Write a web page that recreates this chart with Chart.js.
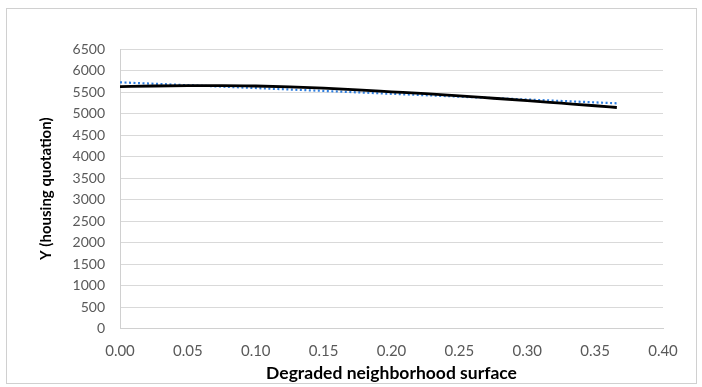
<!DOCTYPE html>
<html>
<head>
<meta charset="utf-8">
<script src="https://cdn.jsdelivr.net/npm/chart.js@4"></script>
<style>
html,body{margin:0;padding:0;background:#fff;}
#wrap{position:relative;width:702px;height:387px;}
</style>
</head>
<body>
<div id="wrap"><canvas id="c" width="702" height="387"></canvas></div>
<script>
// Data
const curveX = [0, 0.025, 0.05, 0.075, 0.1, 0.125, 0.15, 0.175, 0.2, 0.225, 0.25, 0.275, 0.3, 0.325, 0.35, 0.366];
const curveY = [5623, 5640, 5648, 5650, 5640, 5620, 5590, 5550, 5505, 5460, 5410, 5355, 5300, 5240, 5180, 5140];
const trendX = [0, 0.366];
const trendY = [5725, 5237];
const xTicks = [0, 0.05, 0.1, 0.15, 0.2, 0.25, 0.3, 0.35, 0.4];
const yTicks = [0, 500, 1000, 1500, 2000, 2500, 3000, 3500, 4000, 4500, 5000, 5500, 6000, 6500];
const xTitle = 'Degraded neighborhood surface';
const yTitle = 'Y (housing quotation)';

const FONT = 'Lato, "Open Sans", sans-serif';

const borderPlugin = {
  id: 'outerBorder',
  beforeDraw(chart) {
    const ctx = chart.ctx;
    ctx.save();
    ctx.fillStyle = '#fff';
    ctx.fillRect(0, 0, chart.width, chart.height);
    ctx.strokeStyle = '#d0d0d0';
    ctx.lineWidth = 1;
    ctx.strokeRect(6.5, 8.5, 690, 375);
    ctx.restore();
  }
};

new Chart(document.getElementById('c'), {
  type: 'line',
  data: {
    datasets: [
      {
        label: 'Y',
        data: curveX.map((x, i) => ({x: x, y: curveY[i]})),
        borderColor: '#000000',
        borderWidth: 2.8,
        pointRadius: 0,
        cubicInterpolationMode: 'monotone',
        fill: false
      },
      {
        label: 'Trend',
        data: trendX.map((x, i) => ({x: x, y: trendY[i]})),
        borderColor: '#2f7fe0',
        borderWidth: 2.2,
        borderDash: [2, 2.5],
        pointRadius: 0,
        fill: false
      }
    ]
  },
  options: {
    responsive: false,
    animation: false,
    devicePixelRatio: 1,
    layout: { padding: { top: 49, right: 39, left: 0, bottom: 0 } },
    plugins: { legend: { display: false }, tooltip: { enabled: false } },
    scales: {
      x: {
        type: 'linear',
        min: 0, max: 0.4,
        afterBuildTicks(scale) { scale.ticks = xTicks.map(v => ({value: v})); },
        afterFit(scale) { scale.height = 58.5; },
        grid: { display: false, drawTicks: false },
        border: { display: true, color: '#d0d0d0', width: 1 },
        ticks: {
          padding: 14,
          color: '#595959',
          font: { family: FONT, size: 15 },
          maxRotation: 0,
          autoSkip: false,
          callback: v => Number(v).toFixed(2)
        },
        title: {
          display: true,
          text: xTitle,
          color: '#000',
          font: { family: FONT, size: 17.5, weight: 'bold' },
          padding: { top: 0, bottom: 3 }
        }
      },
      y: {
        min: 0, max: 6500,
        afterBuildTicks(scale) { scale.ticks = yTicks.map(v => ({value: v})); },
        afterFit(scale) { scale.width = 120; },
        grid: { color: '#d9d9d9', lineWidth: 1, drawTicks: false },
        border: { display: true, color: '#d0d0d0', width: 1 },
        ticks: {
          padding: 15,
          color: '#595959',
          font: { family: FONT, size: 14 },
          autoSkip: false,
          callback: v => String(v)
        },
        title: {
          display: true,
          text: yTitle,
          color: '#000',
          font: { family: FONT, size: 15, weight: 'bold' },
          padding: { top: 37, bottom: 0 }
        }
      }
    }
  },
  plugins: [borderPlugin]
});
</script>
</body>
</html>
